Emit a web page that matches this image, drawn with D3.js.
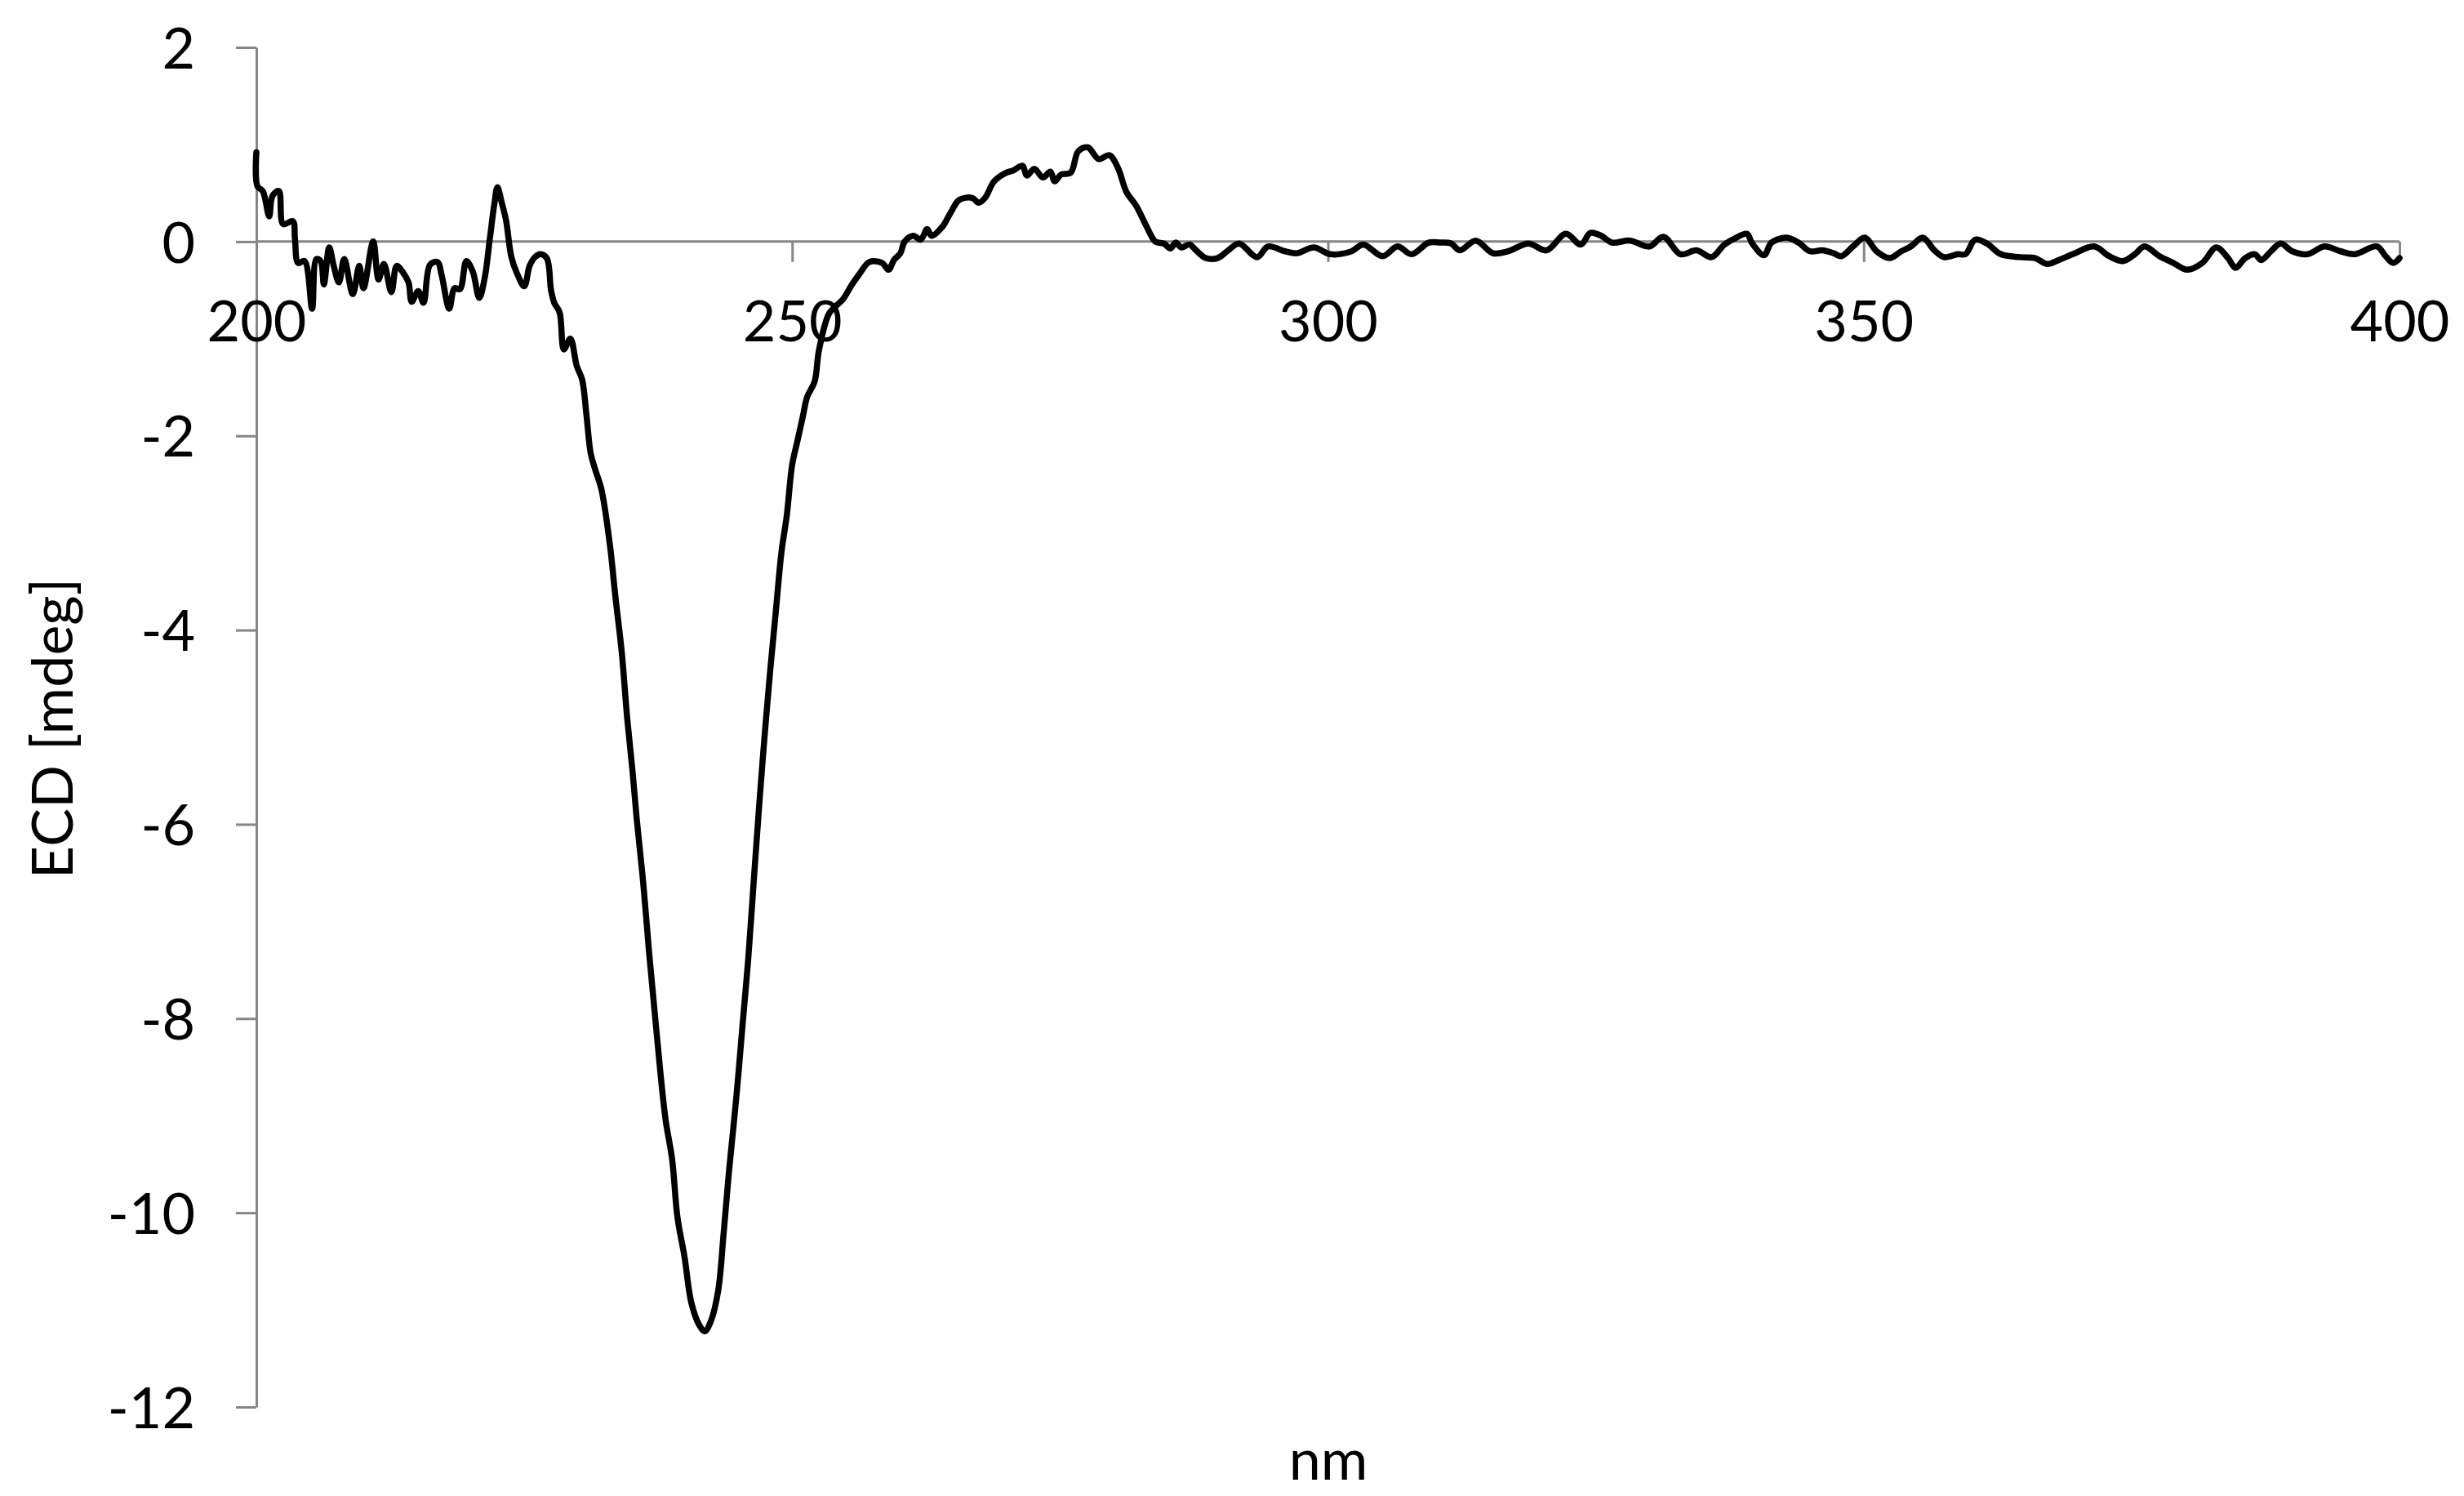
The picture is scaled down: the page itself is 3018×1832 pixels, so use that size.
<!DOCTYPE html>
<html>
<head>
<meta charset="utf-8">
<script src="https://cdnjs.cloudflare.com/ajax/libs/d3/7.8.5/d3.min.js"></script>
<style>
  body { margin: 0; background: #fff; }
  svg { display: block; }
  .axis path, .axis line { stroke: #868686; stroke-width: 3; }
  .axis text { font-family: Lato, sans-serif; font-size: 70px; fill: #000; }
  .title { font-family: Lato, sans-serif; font-size: 70px; fill: #000; }
</style>
</head>
<body>
<div class="render"></div>
<script>
"use strict";

var width = 3018;
var height = 1832;

// wavelength (nm) and ECD signal (mdeg)
var wavelength = [
  200.0, 200.1, 200.6, 201.2, 201.5, 202.1, 202.5, 203.4, 203.6, 203.9,
  204.5, 205.2, 205.6, 206.0, 206.3, 206.8, 207.2, 207.7, 208.2, 209.0,
  209.6, 210.0, 210.9, 211.4, 211.9, 212.6, 213.1, 213.7, 214.2, 214.5,
  215.1, 215.6, 216.2, 216.9, 217.3, 218.0, 218.5, 219.0, 219.6, 220.2,
  220.8, 221.3, 221.8, 222.2, 222.5, 222.9, 223.3, 223.8, 224.3, 225.0,
  225.5, 226.0, 226.5, 227.1, 227.5, 227.8, 228.3, 228.7, 229.3, 229.9,
  230.4, 230.8, 231.2, 231.6, 232.2, 233.0, 233.5, 234.1, 234.6, 235.1,
  235.5, 236.1, 236.65, 237.2, 237.7, 238.2, 238.8, 239.3, 239.95, 240.6,
  241.35, 241.85, 242.4, 243.1, 243.6, 244.1, 244.8, 245.4, 245.9, 246.4,
  246.9, 247.4, 247.95, 248.5, 249.0, 249.5, 250.0, 250.5, 251.0, 251.4,
  252.1, 252.5, 253.4, 253.9, 254.7, 255.6, 256.3, 257.2, 258.4, 259.0,
  259.5, 260.1, 260.5, 261.3, 262.0, 262.6, 263.0, 264.0, 264.8, 265.6,
  266.8, 267.4, 268.0, 268.85, 270.0, 270.6, 271.5, 271.9, 272.6, 273.4,
  274.1, 274.5, 275.1, 276.0, 276.7, 277.6, 278.6, 279.6, 280.4, 281.2,
  282.1, 283.1, 283.9, 284.7, 285.3, 285.8, 286.3, 287.1, 287.6, 288.6,
  289.7, 290.7, 291.7, 293.4, 294.4, 296.0, 297.1, 298.7, 300.2, 302.2,
  303.3, 305.1, 306.5, 307.8, 309.4, 310.5, 311.5, 312.3, 313.8, 315.4,
  316.8, 318.7, 320.4, 322.2, 323.6, 324.5, 325.5, 326.5, 328.2, 330.0,
  331.3, 332.9, 334.4, 335.8, 337.0, 338.1, 339.1, 339.6, 340.7, 341.4,
  342.8, 343.9, 345.0, 346.1, 347.2, 347.9, 349.0, 350.1, 351.2, 352.4,
  353.5, 354.4, 355.5, 356.6, 357.5, 358.8, 359.5, 360.4, 361.5, 362.8,
  364.6, 366.0, 367.1, 368.2, 369.5, 371.5, 372.9, 374.2, 375.3, 376.2,
  377.6, 378.9, 380.2, 381.6, 382.9, 384.0, 384.7, 385.6, 386.5, 387.1,
  388.0, 388.9, 390.0, 391.4, 393.0, 394.5, 395.8, 397.9, 398.7, 399.4,
  400.0
];
var ecd = [
  0.92, 0.57, 0.52, 0.26, 0.47, 0.52, 0.18, 0.21, 0.03, -0.22,
  -0.20, -0.69, -0.18, -0.20, -0.44, -0.06, -0.24, -0.42, -0.18, -0.54,
  -0.25, -0.48, 0.00, -0.39, -0.23, -0.52, -0.25, -0.32, -0.42, -0.62,
  -0.51, -0.63, -0.24, -0.21, -0.35, -0.69, -0.48, -0.49, -0.20, -0.31,
  -0.58, -0.38, 0.04, 0.38, 0.56, 0.40, 0.22, -0.16, -0.32, -0.46,
  -0.25, -0.16, -0.13, -0.17, -0.50, -0.63, -0.73, -1.11, -1.00, -1.28,
  -1.42, -1.78, -2.18, -2.34, -2.55, -3.13, -3.65, -4.23, -4.90, -5.45,
  -5.95, -6.60, -7.32, -7.97, -8.55, -9.05, -9.45, -10.05, -10.45, -10.93,
  -11.16, -11.22, -11.12, -10.80, -10.22, -9.58, -8.80, -8.03, -7.39, -6.61,
  -5.84, -5.13, -4.42, -3.78, -3.20, -2.82, -2.30, -2.05, -1.80, -1.60,
  -1.44, -1.12, -0.75, -0.68, -0.60, -0.44, -0.33, -0.21, -0.22, -0.29,
  -0.19, -0.12, 0.00, 0.06, 0.02, 0.13, 0.06, 0.15, 0.30, 0.43,
  0.45, 0.40, 0.45, 0.62, 0.71, 0.73, 0.78, 0.68, 0.75, 0.66,
  0.72, 0.62, 0.69, 0.71, 0.93, 0.97, 0.85, 0.89, 0.76, 0.51,
  0.37, 0.15, 0.00, -0.02, -0.07, -0.01, -0.06, -0.03, -0.08, -0.17,
  -0.17, -0.09, -0.02, -0.16, -0.05, -0.10, -0.12, -0.06, -0.13, -0.10,
  -0.03, -0.15, -0.05, -0.13, -0.01, -0.01, -0.02, -0.09, 0.01, -0.12,
  -0.10, -0.02, -0.09, 0.08, -0.03, 0.09, 0.06, -0.01, 0.01, -0.05,
  0.05, -0.13, -0.09, -0.16, -0.03, 0.04, 0.08, -0.02, -0.14, -0.01,
  0.04, -0.01, -0.10, -0.09, -0.12, -0.15, -0.05, 0.04, -0.10, -0.17,
  -0.10, -0.05, 0.04, -0.09, -0.16, -0.13, -0.13, 0.02, -0.02, -0.13,
  -0.16, -0.17, -0.23, -0.19, -0.13, -0.05, -0.15, -0.20, -0.13, -0.05,
  -0.15, -0.22, -0.29, -0.22, -0.06, -0.17, -0.27, -0.17, -0.13, -0.19,
  -0.10, -0.02, -0.10, -0.13, -0.05, -0.10, -0.13, -0.05, -0.15, -0.22,
  -0.17
];
var xTicks = [200, 250, 300, 350, 400];
var yTicks = [-12, -10, -8, -6, -4, -2, 0, 2];

var x = d3.scaleLinear().domain([200, 400]).range([314, 2939]);
var y = d3.scaleLinear().domain([-12, 2]).range([1723, 58]);

// plain hyphen for negatives, like the original
var fmt = function (d) { return String(d); };

var svg = d3.select('.render').append('svg').attr('width', width).attr('height', height);
svg.append('rect').attr('width', width).attr('height', height).attr('fill', '#fff');

svg.append('g').attr('class', 'axis')
   .attr('transform', 'translate(' + x(200) + ',0)')
   .call(d3.axisLeft(y).tickValues(yTicks).tickFormat(fmt).tickSize(25).tickSizeOuter(0).tickPadding(50))
   .call(function (g) { g.selectAll('text').attr('dy', '0.36em'); });

svg.append('g').attr('class', 'axis')
   .attr('transform', 'translate(0,' + y(0) + ')')
   .call(d3.axisBottom(x).tickValues(xTicks).tickFormat(fmt).tickSize(25).tickSizeOuter(0).tickPadding(47))
   .call(function (g) { g.select('.domain').attr('d', 'M' + x(200) + ',0H' + x(400)); });

svg.append('text').attr('class', 'title')
   .attr('x', 1627).attr('y', 1812).attr('text-anchor', 'middle').text('nm');

svg.append('text').attr('class', 'title')
   .attr('transform', 'translate(89,892) rotate(-90)')
   .attr('text-anchor', 'middle').text('ECD [mdeg]');

var points = wavelength.map(function (w, i) { return [w, ecd[i]]; });
var line = d3.line()
   .curve(d3.curveCatmullRom.alpha(0.5))
   .x(function (d) { return x(d[0]); })
   .y(function (d) { return y(d[1]); });

svg.append('path').datum(points)
   .attr('d', line)
   .attr('fill', 'none')
   .attr('stroke', '#000')
   .attr('stroke-width', 7.5)
   .attr('stroke-linejoin', 'round')
   .attr('stroke-linecap', 'round');
</script>
</body>
</html>
